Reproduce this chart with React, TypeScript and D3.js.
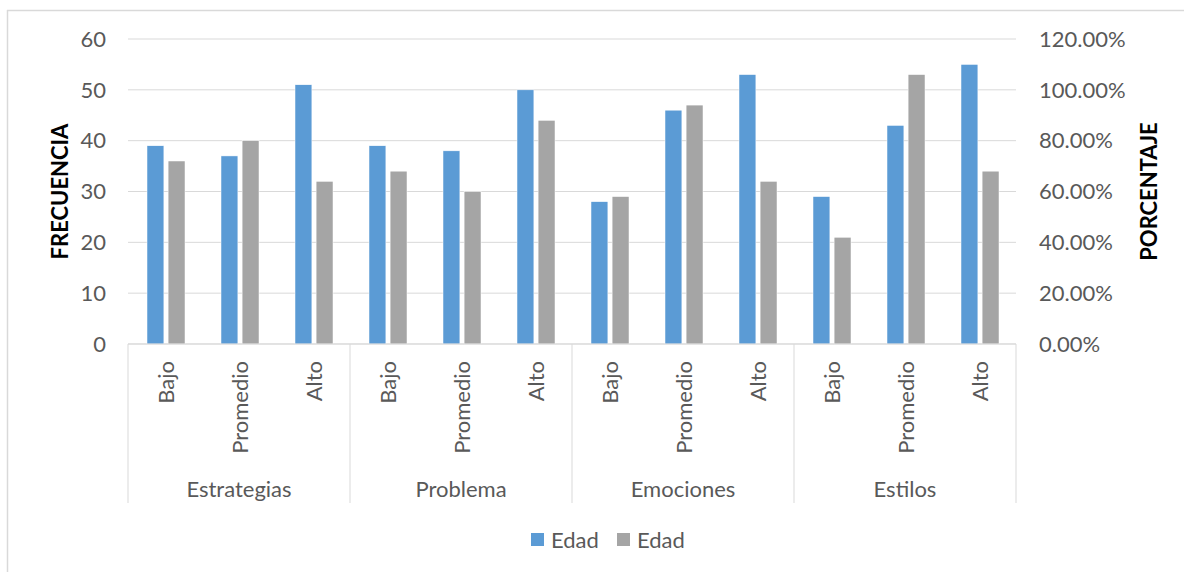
import React from "react";
import * as d3 from "d3";

const groups = ["Estrategias", "Problema", "Emociones", "Estilos"];
const levels = ["Bajo", "Promedio", "Alto"];
const frecuencia = [39, 37, 51, 39, 38, 50, 28, 46, 53, 29, 43, 55];
const porcentaje = [0.72, 0.8, 0.64, 0.68, 0.6, 0.88, 0.58, 0.94, 0.64, 0.42, 1.06, 0.68];
const leftTicks = [0, 10, 20, 30, 40, 50, 60];
const rightTicks = [0, 0.2, 0.4, 0.6, 0.8, 1.0, 1.2];
const seriesNames = ["Edad", "Edad"];

const W = 1184;
const H = 572;
const M = { left: 128, right: 1016, top: 39, bottom: 344 };
const BLUE = "#5b9bd5";
const GRAY = "#a5a5a5";
const TEXT = "#595959";
const GRID = "#d9d9d9";
const FONT = "Lato, 'Open Sans', sans-serif";

export default function App() {
  const cats = groups.flatMap((g) => levels.map((l) => `${g}|${l}`));
  const x = d3.scaleBand<string>().domain(cats).range([M.left, M.right]).padding(0);
  const sub = d3.scaleBand<number>().domain([0, 1]).range([-18, 20]).paddingInner(0.2);
  const y = d3.scaleLinear().domain([0, 60]).range([M.bottom, M.top]);
  const y2 = d3.scaleLinear().domain([0, 1.2]).range([M.bottom, M.top]);
  const groupW = x.step() * levels.length;
  const fmtPct = d3.format(".2%");

  return (
    <svg width={W} height={H} style={{ position: "absolute", left: 0, top: 0, background: "#fff" }} fontFamily={FONT}>
      <line x1={7} x2={W} y1={10.5} y2={10.5} stroke={GRID} strokeWidth={1.5} />
      <line x1={7.5} x2={7.5} y1={10} y2={H} stroke={GRID} strokeWidth={1.5} />
      {leftTicks.map((t) => (
        <line key={"g" + t} x1={M.left} x2={M.right} y1={y(t)} y2={y(t)} stroke={GRID} strokeWidth={1} />
      ))}
      {leftTicks.map((t) => (
        <text key={"l" + t} x={106} y={y(t)} dy="0.35em" textAnchor="end" fontSize={22} fill={TEXT}>
          {t}
        </text>
      ))}
      {rightTicks.map((t) => (
        <text key={"r" + t} x={1039} y={y2(t)} dy="0.35em" textAnchor="start" fontSize={22} fill={TEXT}>
          {fmtPct(t)}
        </text>
      ))}
      {cats.map((c, i) => {
        const cx = (x(c) as number) + x.bandwidth() / 2;
        return (
          <g key={c}>
            <rect x={cx + (sub(0) as number)} y={y(frecuencia[i])} width={sub.bandwidth()} height={M.bottom - y(frecuencia[i])} fill={BLUE} stroke="#fff" strokeWidth={0.5} />
            <rect x={cx + (sub(1) as number)} y={y2(porcentaje[i])} width={sub.bandwidth()} height={M.bottom - y2(porcentaje[i])} fill={GRAY} stroke="#fff" strokeWidth={0.5} />
          </g>
        );
      })}
      <line x1={M.left} x2={M.right} y1={M.bottom} y2={M.bottom} stroke={GRID} strokeWidth={1} />
      {d3.range(groups.length + 1).map((k) => (
        <line key={"s" + k} x1={M.left + k * groupW} x2={M.left + k * groupW} y1={M.bottom} y2={503} stroke={GRID} strokeWidth={1} />
      ))}
      {cats.map((c, i) => {
        const cx = (x(c) as number) + x.bandwidth() / 2;
        return (
          <text key={"t" + c} transform={`translate(${cx + 1},361) rotate(-90)`} textAnchor="end" dy="0.35em" fontSize={22} fill={TEXT}>
            {levels[i % 3]}
          </text>
        );
      })}
      {groups.map((g, k) => (
        <text key={"gr" + g} x={M.left + k * groupW + groupW / 2} y={489} dy="0.35em" textAnchor="middle" fontSize={22} fill={TEXT}>
          {g}
        </text>
      ))}
      <text transform={`translate(60,${(M.top + M.bottom) / 2}) rotate(-90)`} textAnchor="middle" dy="0.35em" fontSize={22} fontWeight="bold" fill="#000">
        FRECUENCIA
      </text>
      <text transform={`translate(1149,${(M.top + M.bottom) / 2}) rotate(-90)`} textAnchor="middle" dy="0.35em" fontSize={22} fontWeight="bold" fill="#000">
        PORCENTAJE
      </text>
      {seriesNames.map((s, i) => {
        const lx = i === 0 ? 531 : 617;
        return (
          <g key={"lg" + i}>
            <rect x={lx} y={533} width={13} height={13} fill={i === 0 ? BLUE : GRAY} />
            <text x={lx + 20} y={540} dy="0.35em" fontSize={22} fill={TEXT}>
              {s}
            </text>
          </g>
        );
      })}
    </svg>
  );
}
